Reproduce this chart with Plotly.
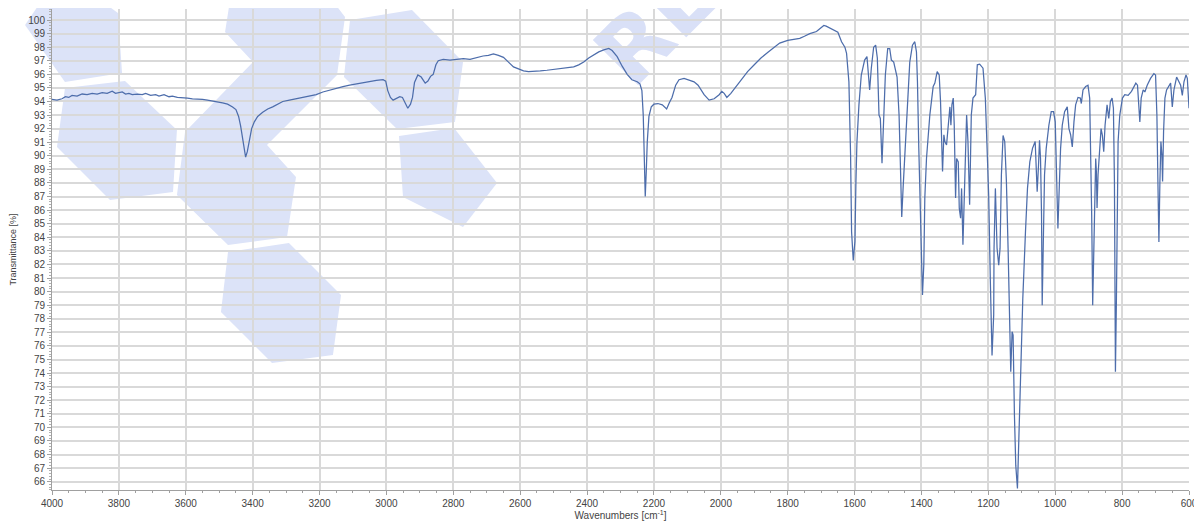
import plotly.graph_objects as go

# ---- data ----
wavenumber = [
    4000, 3985, 3970, 3960, 3950, 3940, 3925, 3910, 3895, 3880, 3865, 3850, 3835, 3820, 3810,
    3800, 3790, 3780, 3770, 3760, 3745, 3730, 3720, 3705, 3690, 3680, 3665, 3650, 3640, 3625,
    3610, 3595, 3580, 3565, 3550, 3535, 3520, 3505, 3490, 3475, 3460, 3450, 3442, 3436, 3430,
    3425, 3421, 3416, 3410, 3403, 3395, 3385, 3370, 3355, 3340, 3325, 3310, 3290, 3270, 3250,
    3230, 3210, 3190, 3170, 3150, 3130, 3110, 3090, 3070, 3050, 3030, 3010, 3002, 2996, 2988,
    2980, 2970, 2960, 2952, 2945, 2936, 2928, 2922, 2916, 2906, 2896, 2884, 2876, 2868, 2860,
    2852, 2845, 2830, 2810, 2790, 2770, 2750, 2730, 2711, 2695, 2680, 2665, 2650, 2635, 2620,
    2605, 2590, 2575, 2560, 2540, 2520, 2500, 2480, 2460, 2440, 2425, 2410, 2395, 2380, 2365,
    2350, 2335, 2325, 2310, 2295, 2280, 2266, 2250, 2242, 2236, 2232, 2229, 2226, 2223, 2220,
    2215, 2208, 2200, 2188, 2175, 2162, 2154, 2146, 2135, 2125, 2110, 2095, 2080, 2068, 2050,
    2035, 2020, 2005, 1997, 1990, 1982, 1970, 1955, 1940, 1920, 1900, 1880, 1860, 1840, 1824,
    1800, 1780, 1764, 1750, 1734, 1714, 1700, 1692, 1685, 1674, 1660, 1650, 1639, 1629, 1624,
    1617, 1612, 1609, 1604, 1599, 1596, 1593, 1587, 1580, 1570, 1563, 1558, 1555, 1550, 1543,
    1537, 1532, 1527, 1523, 1518, 1514, 1508, 1501, 1495, 1490, 1483, 1473, 1467, 1463, 1459,
    1455, 1450, 1443, 1435, 1427, 1420, 1415, 1412, 1408, 1403, 1400, 1397, 1393, 1390, 1385,
    1375, 1365, 1360, 1353, 1347, 1343, 1339, 1337, 1333, 1330, 1325, 1321, 1315, 1312, 1309,
    1305, 1302, 1298, 1295, 1290, 1287, 1283, 1280, 1276, 1273, 1269, 1265, 1261, 1256, 1251,
    1246, 1238, 1233, 1226, 1216, 1209, 1203, 1199, 1194, 1189, 1184, 1183, 1179, 1177, 1174,
    1169, 1165, 1161, 1156, 1151, 1146, 1141, 1136, 1133, 1129, 1126, 1122, 1118, 1113, 1109,
    1105, 1097, 1089, 1083, 1076, 1068, 1060, 1057, 1054, 1050, 1047, 1044, 1041, 1039, 1036,
    1032, 1027, 1019, 1012, 1005, 1000, 995, 992, 989, 984, 979, 972, 964, 959, 954,
    949, 944, 939, 932, 925, 922, 917, 909, 902, 897, 894, 891, 888, 885, 881,
    879, 877, 875, 872, 867, 863, 859, 855, 851, 845, 840, 835, 830, 826, 823,
    821, 820, 817, 815, 812, 807, 799, 792, 782, 772, 759, 754, 750, 747, 743,
    737, 732, 725, 715, 705, 700, 696, 693, 690, 687, 684, 681, 679, 676, 672,
    667, 660, 655, 650, 645, 637, 630, 625, 620, 615, 609, 605, 600,
]
transmittance = [
    94.15, 94.1, 94.2, 94.35, 94.3, 94.45, 94.4, 94.55, 94.5, 94.6, 94.55, 94.65, 94.6, 94.75, 94.6,
    94.65, 94.7, 94.55, 94.6, 94.5, 94.55, 94.5, 94.6, 94.45, 94.5, 94.4, 94.5, 94.35, 94.4, 94.3,
    94.3, 94.25, 94.2, 94.2, 94.15, 94.1, 94.05, 94.0, 93.9, 93.8, 93.6, 93.4, 92.9, 92.2, 91.2,
    90.3, 89.9, 90.3, 91.2, 92.0, 92.5, 92.9, 93.2, 93.45, 93.6, 93.8, 94.0, 94.1, 94.2, 94.3,
    94.4, 94.5, 94.7, 94.85, 95.0, 95.1, 95.2, 95.3, 95.4, 95.5, 95.55, 95.6, 95.5, 94.8, 94.3,
    94.1, 94.2, 94.35, 94.3, 93.9, 93.5, 93.8, 94.3, 95.4, 95.95, 95.8, 95.35, 95.5, 95.85, 96.0,
    96.7, 97.0, 97.1, 97.05, 97.1, 97.15, 97.1, 97.25, 97.35, 97.4, 97.5, 97.4, 97.25, 96.9, 96.55,
    96.4, 96.25, 96.2, 96.2, 96.25, 96.3, 96.35, 96.4, 96.5, 96.55, 96.7, 96.9, 97.2, 97.45, 97.65,
    97.8, 97.9, 97.75, 97.3, 96.6, 96.0, 95.6, 95.45, 95.3, 94.8, 93.0, 90.5, 87.0, 88.8, 91.0,
    92.9, 93.6, 93.8, 93.85, 93.75, 93.45, 93.9, 94.3, 95.2, 95.6, 95.7, 95.6, 95.45, 95.2, 94.5,
    94.1, 94.2, 94.5, 94.75, 94.6, 94.3, 94.6, 95.1, 95.6, 96.2, 96.7, 97.2, 97.6, 98.0, 98.3,
    98.5, 98.6, 98.65, 98.8, 99.0, 99.15, 99.4, 99.6, 99.55, 99.4, 99.25, 99.1, 98.4, 98.0, 97.55,
    95.45, 90.05, 84.4, 82.3, 83.7, 88.1, 91.0, 93.75, 95.95, 97.05, 97.3, 95.8, 94.85, 96.45, 98.0,
    98.15, 97.2, 93.0, 92.75, 89.45, 92.5, 95.95, 97.9, 97.9, 97.05, 96.9, 95.8, 93.0, 89.3, 85.5,
    87.6, 90.05, 94.0, 96.9, 98.15, 98.4, 97.65, 95.45, 90.55, 84.4, 80.7, 79.75, 82.0, 86.9, 89.8,
    93.0, 95.1, 95.35, 96.2, 95.95, 94.0, 90.55, 88.85, 91.55, 91.05, 90.8, 92.0, 93.6, 92.25, 93.75,
    94.25, 92.25, 86.9, 89.8, 89.55, 86.15, 85.4, 87.6, 83.45, 85.65, 89.3, 93.0, 91.05, 86.4, 93.0,
    94.25, 94.5, 96.7, 96.75, 96.45, 94.25, 90.55, 87.1, 80.7, 75.3, 78.3, 83.2, 87.6, 85.65, 83.2,
    81.95, 83.2, 88.6, 91.5, 91.05, 88.1, 83.2, 75.8, 74.1, 77.05, 76.8, 70.9, 67.2, 65.5, 68.95,
    73.35, 79.5, 84.4, 87.6, 89.55, 90.55, 91.05, 89.3, 87.35, 89.3, 91.15, 89.8, 85.65, 79.0, 83.2,
    88.6, 90.55, 92.25, 93.25, 93.25, 92.5, 88.1, 84.65, 86.9, 90.55, 92.25, 93.25, 93.6, 92.0, 91.55,
    90.65, 92.5, 93.75, 94.3, 94.25, 93.85, 94.85, 95.1, 95.2, 94.25, 90.55, 85.65, 79.0, 83.2, 88.6,
    89.8, 88.85, 86.15, 88.6, 91.05, 92.0, 91.5, 90.3, 92.25, 93.75, 92.75, 94.0, 94.25, 93.5, 88.1,
    80.7, 74.1, 79.5, 85.65, 91.05, 93.0, 94.25, 94.5, 94.45, 94.75, 95.35, 95.2, 93.75, 92.5, 94.25,
    94.85, 94.7, 95.2, 95.7, 96.05, 95.95, 93.0, 88.1, 83.65, 88.1, 91.05, 90.05, 88.1, 91.8, 94.25,
    94.85, 95.2, 95.35, 93.6, 94.85, 95.8, 95.45, 95.2, 94.45, 95.45, 95.95, 95.7, 93.5,
]

x_ticks = list(range(4000, 599, -200))
y_ticks = list(range(66, 101))

# ---- page geometry: the page body adds an 8px offset, so the figure is 8px smaller ----
OFF = 8
FIG_W, FIG_H = 1202 - OFF, 521 - OFF
# plot area in screen pixels
PX_L, PX_R, PX_T, PX_B = 52, 1189, 9, 490


def to_paper(pts):
    return [((x - PX_L) / (PX_R - PX_L), (PX_B - y) / (PX_B - PX_T)) for x, y in pts]


# watermark hexagons (screen-pixel outlines)
hexes = [
    [(42, 0), (100, 0), (118, 13), (122, 73), (65, 82), (25, 25)],
    [(65, 88), (125, 81), (177, 130), (173, 192), (110, 200), (57, 147)],
    [(230, 0), (332, 0), (345, 17), (337, 75), (267, 145), (296, 177), (287, 237),
     (228, 245), (177, 195), (185, 132), (253, 62), (225, 32)],
    [(350, 20), (412, 10), (463, 62), (455, 122), (397, 129), (344, 77)],
    [(399, 136), (454, 128), (497, 183), (463, 227), (403, 197)],
    [(228, 252), (289, 243), (341, 295), (333, 355), (272, 363), (221, 312)],
]

WM_COLOR = "#dce3f8"
shapes = []
for h in hexes:
    pts = to_paper(h)
    path = "M " + " L ".join(f"{x:.4f},{y:.4f}" for x, y in pts) + " Z"
    shapes.append(dict(type="path", xref="paper", yref="paper", path=path,
                       fillcolor=WM_COLOR, line=dict(width=0), layer="below"))

# watermark text, drawn as a label of an invisible shape so it stays beneath the spectrum
(wx0, wy0), (wx1, wy1) = to_paper([(651, 21), (653, 19)])
shapes.append(dict(
    type="rect", xref="paper", yref="paper", x0=wx0, x1=wx1, y0=wy0, y1=wy1,
    line=dict(width=0), fillcolor="rgba(0,0,0,0)", layer="below",
    label=dict(text="RE", textangle=-45, textposition="middle center",
               font=dict(size=88, color="#d9e0f7", family="DejaVu Sans", weight="bold")),
))

fig = go.Figure()
fig.add_trace(go.Scatter(
    x=wavenumber, y=transmittance, mode="lines",
    line=dict(color="#4d6dab", width=1.25), showlegend=False,
))

font_family = "Liberation Sans, DejaVu Sans, sans-serif"
fig.update_layout(
    width=FIG_W, height=FIG_H,
    margin=dict(l=PX_L - OFF, r=FIG_W - (PX_R - OFF), t=PX_T - OFF, b=FIG_H - (PX_B - OFF)),
    paper_bgcolor="white", plot_bgcolor="rgba(0,0,0,0)",
    shapes=shapes,
    font=dict(family=font_family, size=10, color="#444444"),
)
fig.update_xaxes(
    range=[4000, 600], tickvals=x_ticks, ticktext=[str(v) for v in x_ticks],
    showgrid=True, gridcolor="#d9d9d9", gridwidth=1.5,
    showline=True, linecolor="#a0a0a0", linewidth=1,
    ticks="outside", ticklen=4, tickcolor="#a0a0a0",
    minor=dict(dtick=50, ticks="outside", ticklen=2, tickcolor="#a0a0a0", showgrid=False),
    tickfont=dict(size=10, color="#444444"),
    title=dict(text="Wavenumbers [cm<sup>-1</sup>]", font=dict(size=10, color="#444444"), standoff=1),
    zeroline=False, automargin=False,
)
fig.update_yaxes(
    range=[65.39, 100.81], tickvals=y_ticks, ticktext=[str(v) for v in y_ticks],
    showgrid=True, gridcolor="#d9d9d9", gridwidth=1.5,
    showline=True, linecolor="#a0a0a0", linewidth=1,
    ticks="outside", ticklen=4, tickcolor="#a0a0a0",
    minor=dict(dtick=0.2, ticks="outside", ticklen=2, tickcolor="#b0b0b0", showgrid=False),
    tickfont=dict(size=10, color="#444444"),
    title=dict(text="Transmittance [%]", font=dict(size=9, color="#444444"), standoff=10),
    zeroline=False, automargin=False,
)

fig.write_html("out.html")
